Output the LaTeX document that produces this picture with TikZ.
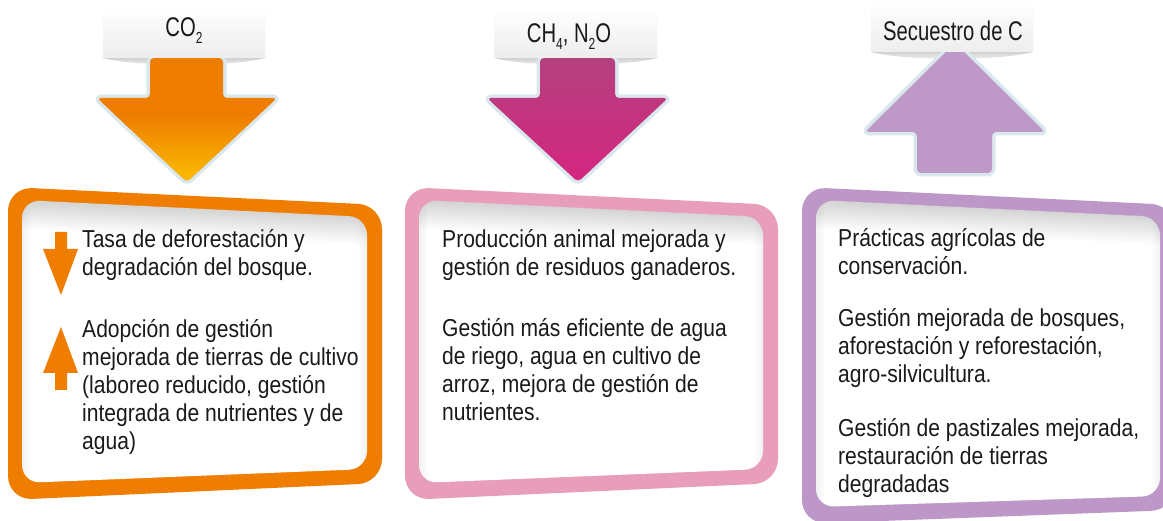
\documentclass[tikz,border=0pt]{standalone}
\usepackage{fontspec}
\setmainfont{Liberation Sans}
\newfontfamily\bodyf[FakeStretch=0.86]{Liberation Sans}
\newfontfamily\labf[FakeStretch=0.75]{Liberation Sans}
\definecolor{txt}{HTML}{1A1A1A}
\definecolor{orA}{HTML}{EE7D00}
\definecolor{ylA}{HTML}{FBC000}
\definecolor{pkTop}{HTML}{B4407E}
\definecolor{pkBot}{HTML}{D52580}
\definecolor{puA}{HTML}{BE99C8}
\definecolor{pkPanel}{HTML}{E89DBB}
\definecolor{puPanel}{HTML}{BC97C7}
\definecolor{edgec}{HTML}{DAE7EC}
\newcommand\ptext[1]{\parbox[t]{400pt}{\bodyf\fontsize{24.5}{28}\selectfont\raggedright #1}}
\newcommand\labtext[1]{{\labf\fontsize{27}{30}\selectfont #1}}
\newcommand\subs[1]{\raisebox{-7pt}{\fontsize{16}{16}\selectfont #1}}
\newcommand\drawpanel[5]{%
  \fill[#5, rounded corners=24pt] (#1,187) -- (#2,205) -- (#2,#4) -- (#1,#3) -- cycle;
  \begin{scope}
    \clip[rounded corners=18pt] (#1+14,200) -- (#2-15,217) -- (#2-15,#4-14) -- (#1+14,#3-17) -- cycle;
    \fill[white] (#1,187) rectangle (#2,#3);
    \foreach \i in {1,...,14} {
      \fill[black, opacity=0.013] (#1,195) -- (#2,212) -- (#2,217+2*\i) -- (#1,200+2*\i) -- cycle;
    }
    \foreach \i in {1,...,6} {
      \fill[black, opacity=0.008] (#1,187) rectangle (#1+14+1.5*\i,#3);
      \fill[black, opacity=0.008] (#2,187) rectangle (#2-15-1.5*\i,#3);
    }
  \end{scope}}
\tikzset{
  bigedge/.style={draw=edgec, line width=7pt, line join=round, rounded corners=4pt},
  labbox/.style={top color=white, bottom color=black!7},
  lens/.style={top color=black!18, bottom color=black!4},
  txtnode/.style={anchor=base west, inner sep=0pt, text=txt},
  labnode/.style={anchor=base, inner sep=0pt, text=txt}
}
\begin{document}
\begin{tikzpicture}[x=1pt,y=-1pt]
\useasboundingbox (0,0) rectangle (1163,521);
\fill[white] (0,0) rectangle (1163,521);

% ---------- panels ----------
\drawpanel{8}{382}{500}{483}{orA}
\drawpanel{405}{778}{500}{483}{pkPanel}
\drawpanel{802}{1175}{524}{510}{puPanel}

% ---------- column 1 : CO2 ----------
\shade[labbox] (103,6) rectangle (265,58);
\shade[lens] (103,58) -- (265,58) .. controls (232,67) and (136,67) .. (103,58) -- cycle;
\path[bigedge] (150,58) -- (150,98) -- (97,98) -- (187,182) -- (277,98) -- (223,98) -- (223,58) -- cycle;
\begin{scope}
  \clip[rounded corners=4pt] (150,58) -- (150,98) -- (97,98) -- (187,182) -- (277,98) -- (223,98) -- (223,58) -- cycle;
  \fill[orA] (90,50) rectangle (285,190);
  \shade[top color=orA, bottom color=ylA] (90,115) rectangle (285,184);
\end{scope}
\shade[labbox] (103,6) rectangle (265,58);
\node[labnode] (l1) at (184,37) {\labtext{CO\subs{2}}};

% ---------- column 2 : CH4, N2O ----------
\shade[labbox] (494,8) rectangle (657,58);
\shade[lens] (494,58) -- (657,58) .. controls (624,67) and (527,67) .. (494,58) -- cycle;
\path[bigedge] (540,58) -- (540,98) -- (487,98) -- (578,182) -- (668,98) -- (615,98) -- (615,58) -- cycle;
\shade[top color=pkTop, bottom color=pkBot, rounded corners=4pt]
  (540,58) -- (540,98) -- (487,98) -- (578,182) -- (668,98) -- (615,98) -- (615,58) -- cycle;
\shade[labbox] (494,8) rectangle (657,58);
\node[labnode] (l2) at (569,43) {\labtext{CH\subs{4}, N\subs{2}O}};

% ---------- column 3 : Secuestro de C ----------
\shade[labbox] (871,0) rectangle (1033,52);
\shade[lens] (871,52) -- (1033,52) .. controls (1000,61) and (904,61) .. (871,52) -- cycle;
\path[bigedge] (917,173) -- (917,132) -- (865,132) -- (955,43) -- (1045,132) -- (992,132) -- (992,173) -- cycle;
\fill[puA, rounded corners=4pt]
  (917,173) -- (917,132) -- (865,132) -- (955,43) -- (1045,132) -- (992,132) -- (992,173) -- cycle;
\shade[labbox] (871,0) rectangle (1033,52);
\node[labnode] (l3) at (953,41) {\labtext{Secuestro de C}};

% ---------- small arrows in panel 1 ----------
\fill[orA] (55,232) -- (67,232) -- (67,249) -- (78,249) -- (61,295) -- (43,249) -- (55,249) -- cycle;
\fill[orA] (55,390) -- (67,390) -- (67,373) -- (78,373) -- (61,327) -- (43,373) -- (55,373) -- cycle;

% ---------- texts ----------
\node[txtnode] (t11) at (82,248) {\ptext{Tasa de deforestación y\\degradación del bosque.}};
\node[txtnode] (t12) at (82,338) {\ptext{Adopción de gestión\\mejorada de tierras de cultivo\\(laboreo reducido, gestión\\integrada de nutrientes y de\\agua)}};

\node[txtnode] (t21) at (442,248) {\ptext{Producción animal mejorada y\\gestión de residuos ganaderos.}};
\node[txtnode] (t22) at (442,337) {\ptext{Gestión más eficiente de agua\\de riego, agua en cultivo de\\arroz, mejora de gestión de\\nutrientes.}};

\node[txtnode] (t31) at (838,247) {\ptext{Prácticas agrícolas de\\conservación.}};
\node[txtnode] (t32) at (838,327) {\ptext{Gestión mejorada de bosques,\\aforestación y reforestación,\\agro-silvicultura.}};
\node[txtnode] (t33) at (838,437) {\ptext{Gestión de pastizales mejorada,\\restauración de tierras\\degradadas}};
\end{tikzpicture}
\end{document}
